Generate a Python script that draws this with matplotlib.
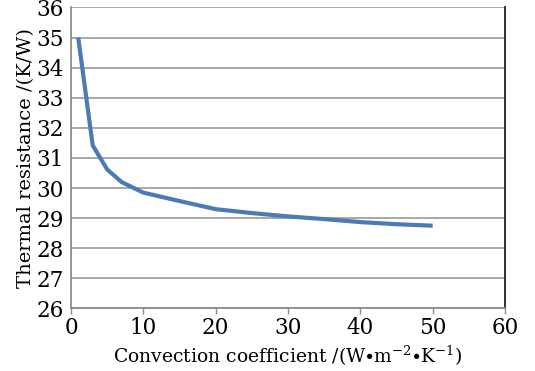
import matplotlib
matplotlib.use("Agg")
import matplotlib.pyplot as plt

plt.rcParams["font.family"] = "DejaVu Serif"
plt.rcParams["mathtext.fontset"] = "dejavuserif"

h_coef = [1, 3, 5, 7, 10, 15, 20, 25, 30, 35, 40, 45, 50]
resistance = [35.0, 31.42, 30.62, 30.2, 29.85, 29.57, 29.3, 29.17, 29.06, 28.97, 28.87, 28.8, 28.75]

fig = plt.figure(figsize=(5.35, 3.71), dpi=100)
ax = fig.add_axes([0.1327, 0.1685, 0.8113, 0.8113])

ax.plot(h_coef, resistance, color="#4b7bb7", lw=3.0, solid_capstyle="butt", zorder=3)

ax.set_xlim(0, 60)
ax.set_ylim(26, 36)
ax.set_xticks(range(0, 61, 10))
ax.set_yticks(range(26, 37))
ax.yaxis.grid(True, color="#9a9a9a", lw=1.2)
ax.set_axisbelow(True)

for s in ["left", "bottom"]:
    ax.spines[s].set_color("#8c8c8c")
    ax.spines[s].set_linewidth(1.3)
ax.spines["right"].set_color("#222222")
ax.spines["right"].set_linewidth(1.3)
ax.spines["top"].set_visible(False)

ax.tick_params(axis="y", length=0, pad=5, labelsize=15.5)
ax.tick_params(axis="x", length=4, width=1, color="#8c8c8c", pad=2, labelsize=15.5)

ax.set_xlabel("Convection coefficient /(W$\\bullet$m$^{-2}$$\\bullet$K$^{-1}$)", fontsize=13.5, labelpad=4)
ax.set_ylabel("Thermal resistance /(K/W)", fontsize=14, labelpad=1)

fig.savefig("out.png", dpi=100)
